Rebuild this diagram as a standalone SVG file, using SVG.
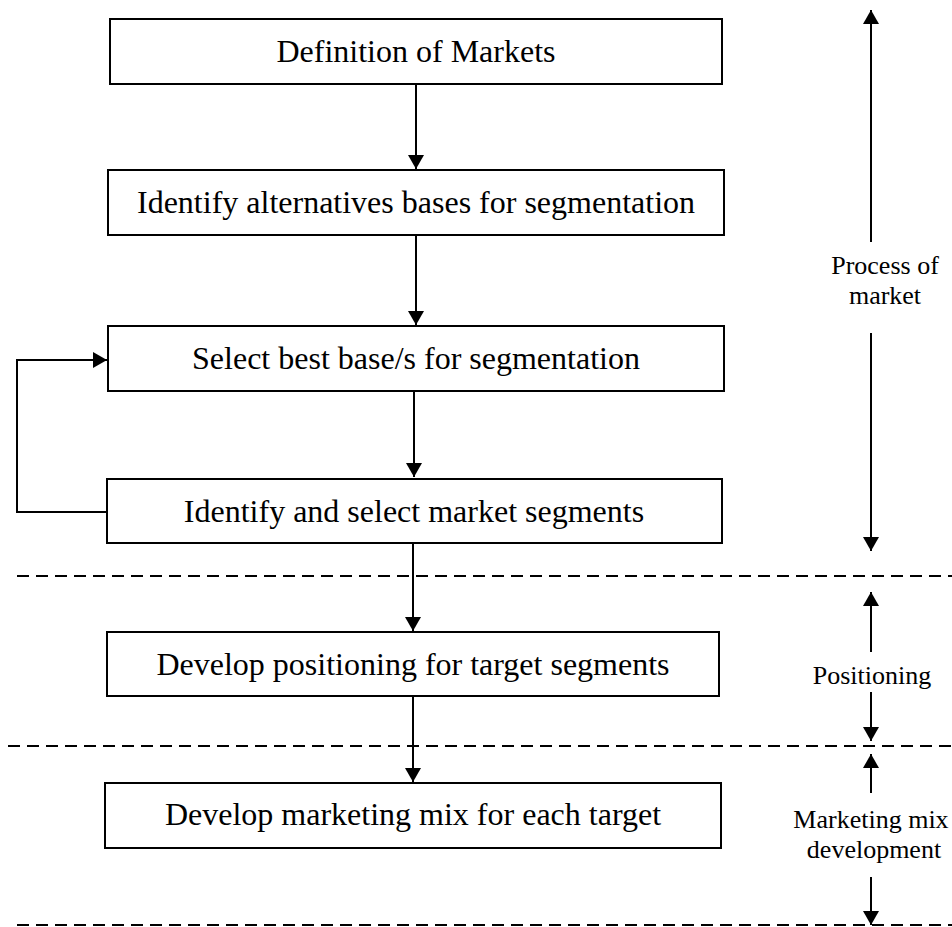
<svg xmlns="http://www.w3.org/2000/svg" width="952" height="927" viewBox="0 0 952 927">
<style>
.box rect{fill:#fff;stroke:#000;stroke-width:2}
.box text{font-family:"Liberation Serif","Times New Roman",serif;font-size:32px;fill:#000;text-anchor:middle}
.lbl{font-family:"Liberation Serif","Times New Roman",serif;font-size:26px;fill:#000;text-anchor:middle}
.ln{stroke:#000;stroke-width:2;fill:none}
.dash{stroke:#000;stroke-width:2;stroke-dasharray:12 7;fill:none}
</style>
<defs>
<marker id="ah" viewBox="0 0 14 16" refX="14" refY="8" markerWidth="14" markerHeight="16" markerUnits="userSpaceOnUse" orient="auto">
<path d="M0,0 L14,8 L0,16 Z" fill="#000"/>
</marker>
</defs>
<rect width="952" height="927" fill="#fff"/>
<g id="n1" class="box"><rect x="110" y="19" width="612" height="65"/><text x="416" y="62">Definition of Markets</text></g>
<g id="n2" class="box"><rect x="108" y="170" width="616" height="65"/><text x="416" y="213">Identify alternatives bases for segmentation</text></g>
<g id="n3" class="box"><rect x="108" y="326" width="616" height="65"/><text x="416" y="369">Select best base/s for segmentation</text></g>
<g id="n4" class="box"><rect x="107" y="479" width="615" height="64"/><text x="414" y="522">Identify and select market segments</text></g>
<g id="n5" class="box"><rect x="107" y="632" width="612" height="64"/><text x="413" y="675">Develop positioning for target segments</text></g>
<g id="n6" class="box"><rect x="105" y="783" width="616" height="65"/><text x="413" y="825">Develop marketing mix for each target</text></g>
<g id="connectors">
<line class="ln" x1="416" y1="84" x2="416" y2="169" marker-end="url(#ah)"/>
<line class="ln" x1="416" y1="235" x2="416" y2="325" marker-end="url(#ah)"/>
<line class="ln" x1="414" y1="391" x2="414" y2="477" marker-end="url(#ah)"/>
<line class="ln" x1="413" y1="543" x2="413" y2="631" marker-end="url(#ah)"/>
<line class="ln" x1="413" y1="696" x2="413" y2="782" marker-end="url(#ah)"/>
<polyline class="ln" points="107,512 17,512 17,360 107,360" stroke-width="2.5" marker-end="url(#ah)"/>
</g>
<g id="dividers">
<line class="dash" x1="17" y1="576" x2="952" y2="576"/>
<line class="dash" x1="8" y1="746" x2="952" y2="746"/>
<line class="dash" x1="17" y1="925" x2="952" y2="925"/>
</g>
<g id="phases">
<line class="ln" x1="871" y1="242" x2="871" y2="10" marker-end="url(#ah)"/>
<line class="ln" x1="871" y1="333" x2="871" y2="551" marker-end="url(#ah)"/>
<text class="lbl" x="885" y="274">Process of</text>
<text class="lbl" x="885" y="304">market</text>
<line class="ln" x1="871" y1="652" x2="871" y2="592" marker-end="url(#ah)"/>
<line class="ln" x1="871" y1="692" x2="871" y2="741" marker-end="url(#ah)"/>
<text class="lbl" x="872" y="684">Positioning</text>
<line class="ln" x1="871" y1="793" x2="871" y2="754" marker-end="url(#ah)"/>
<line class="ln" x1="871" y1="877" x2="871" y2="925" marker-end="url(#ah)"/>
<text class="lbl" x="871" y="828">Marketing mix</text>
<text class="lbl" x="874" y="858">development</text>
</g>
</svg>
